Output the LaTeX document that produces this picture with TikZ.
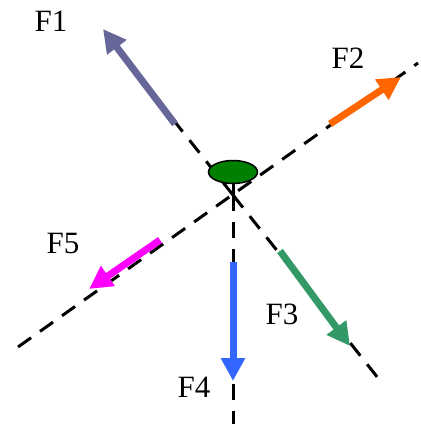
\documentclass[tikz,border=0pt]{standalone}
\usepackage{fontspec}
\setmainfont{Liberation Serif}
\usepackage{xcolor}
\usepackage{tikz}
\usetikzlibrary{arrows.meta,shapes.geometric}
\definecolor{fonecol}{RGB}{102,102,153}
\definecolor{ftwocol}{RGB}{255,102,0}
\definecolor{fthreecol}{RGB}{51,153,102}
\definecolor{ffourcol}{RGB}{51,102,255}
\definecolor{ffivecol}{RGB}{255,0,255}
\definecolor{bodygreen}{RGB}{0,128,0}

\begin{document}
\begin{tikzpicture}[x=1pt, y=-1pt,
    axis/.style={line width=3pt, dash pattern=on 16pt off 11pt},
    force/.style={line width=7pt, draw=#1, -{Triangle[length=23pt, width=23pt, fill=#1]}},
    flabel/.style={font=\fontsize{31}{34}\selectfont, inner sep=0pt}]
\useasboundingbox (0,0) rectangle (421,424);

% where the lines cross
\coordinate (o) at (233,195);
\coordinate (ax1a) at (148,88);
\coordinate (ax1b) at (378,378);
\coordinate (ax2a) at (18,347);
\coordinate (ax2b) at (418,63);
\coordinate (ax3b) at (233,424);

\draw[axis] (o) -- (ax1a);
\draw[axis] (o) -- (ax1b);
\draw[axis] (ax2a) -- (ax2b);
\draw[axis] (o) -- (ax3b);

% forces
\coordinate (f1s) at (175,124);
\coordinate (f1e) at (103,29);
\coordinate (f2s) at (330,124);
\coordinate (f2e) at (401,77);
\coordinate (f3s) at (280,251);
\coordinate (f3e) at (350,346);
\coordinate (f4s) at (233,262);
\coordinate (f4e) at (233,381);
\coordinate (f5s) at (160,240);
\coordinate (f5e) at (89,289);

\draw[force=fonecol] (f1s) -- (f1e);
\draw[force=ftwocol] (f2s) -- (f2e);
\draw[force=fthreecol] (f3s) -- (f3e);
\draw[force=ffourcol] (f4s) -- (f4e);
\draw[force=ffivecol] (f5s) -- (f5e);

% body
\node[ellipse, draw, line width=1.5pt, fill=bodygreen, minimum width=49pt,
      minimum height=23pt, inner sep=0pt] (body) at (233,172) {};
\draw[line width=3pt] (body.south) -- (o);

\node[flabel] (lf1) at (51,21) {F1};
\node[flabel] (lf2) at (348,58) {F2};
\node[flabel] (lf3) at (282,314) {F3};
\node[flabel] (lf4) at (194,387) {F4};
\node[flabel] (lf5) at (63,243) {F5};
\end{tikzpicture}
\end{document}
